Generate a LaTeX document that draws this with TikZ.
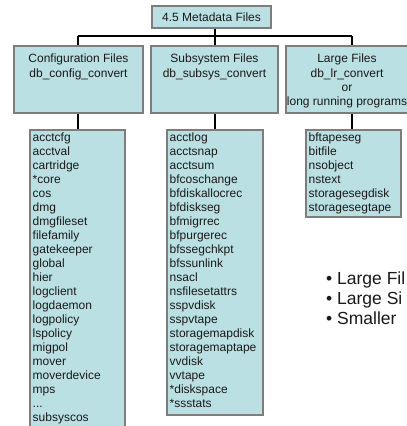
\documentclass[tikz,border=0pt]{standalone}
\usepackage{fontspec}
\setmainfont{Liberation Sans}
\definecolor{boxfill}{RGB}{187,224,228}
\definecolor{boxline}{RGB}{125,125,125}
\definecolor{txt}{RGB}{25,25,25}
\begin{document}
\begin{tikzpicture}[x=1pt,y=-1pt,
  box/.style={draw=boxline,fill=boxfill,line width=2pt,inner sep=0pt,anchor=north west},
  lbl/.style={anchor=north,align=center,inner sep=0pt,text=txt,font=\fontsize{12}{14.15}\selectfont},
  lst/.style={anchor=north west,align=left,inner sep=0pt,text=txt,font=\fontsize{12}{14}\selectfont},
  conn/.style={draw=black,line width=1.5pt},
  bul/.style={anchor=base west,inner sep=0pt,text=txt,font=\fontsize{17.5}{20}\selectfont}]
\useasboundingbox (0,0) rectangle (407,426);
\clip (0,0) rectangle (407,426);
% top
\node[box,minimum width=119pt,minimum height=22pt] (top) at (151,5) {};
\node[lbl,anchor=center] (toplbl) at (top.center) {4.5 Metadata Files};
% level 2
\node[box,minimum width=129pt,minimum height=67pt] (cfg) at (13,45) {};
\node[box,minimum width=127pt,minimum height=67pt] (sub) at (150,45) {};
\node[box,minimum width=134pt,minimum height=67pt] (lrg) at (285,45) {};
\node[lbl] (cfglbl) at ([yshift=-9pt]cfg.north) {Configuration Files\\db\_config\_convert};
\node[lbl] (sublbl) at ([yshift=-9pt]sub.north) {Subsystem Files\\db\_subsys\_convert};
\node[lbl] (lrglbl) at (347,54) {Large Files\\db\_lr\_convert\\or\\long running programs};
% connectors top
\coordinate (bar) at (215,36);
\coordinate (barL) at (78,36);
\coordinate (barR) at (352,36);
\draw[conn] (top.south -| bar) -- (bar);
\draw[conn,line width=2pt] (barL) -- (barR);
\draw[conn] (barL) -- (barL |- cfg.north);
\draw[conn] (bar) -- (bar |- sub.north);
\draw[conn] (barR) -- (barR |- lrg.north);
% lists
\node[box,minimum width=95pt,minimum height=310pt] (l1) at (29,129) {};
\node[box,minimum width=96pt,minimum height=285pt] (l2) at (166,129) {};
\node[box,minimum width=95pt,minimum height=87pt] (l3) at (305,129) {};
\node[lst] (l1t) at (32.5,132.5) {acctcfg\\acctval\\cartridge\\*core\\cos\\dmg\\dmgfileset\\filefamily\\gatekeeper\\global\\hier\\logclient\\logdaemon\\logpolicy\\lspolicy\\migpol\\mover\\moverdevice\\mps\\...\\subsyscos};
\node[lst] (l2t) at (169.5,132.5) {acctlog\\acctsnap\\acctsum\\bfcoschange\\bfdiskallocrec\\bfdiskseg\\bfmigrrec\\bfpurgerec\\bfssegchkpt\\bfssunlink\\nsacl\\nsfilesetattrs\\sspvdisk\\sspvtape\\storagemapdisk\\storagemaptape\\vvdisk\\vvtape\\*diskspace\\*ssstats};
\node[lst] (l3t) at (308.5,132.5) {bftapeseg\\bitfile\\nsobject\\nstext\\storagesegdisk\\storagesegtape};
\draw[conn] (cfg.south -| barL) -- (barL |- l1.north);
\draw[conn] (sub.south -| bar) -- (bar |- l2.north);
\draw[conn] (lrg.south -| barR) -- (barR |- l3.north);
% bullets
\node[bul] (b1) at (326,284) {• Large Fil};
\node[bul] (b2) at (326,304) {• Large Si};
\node[bul] (b3) at (326,324) {• Smaller};
\end{tikzpicture}
\end{document}
